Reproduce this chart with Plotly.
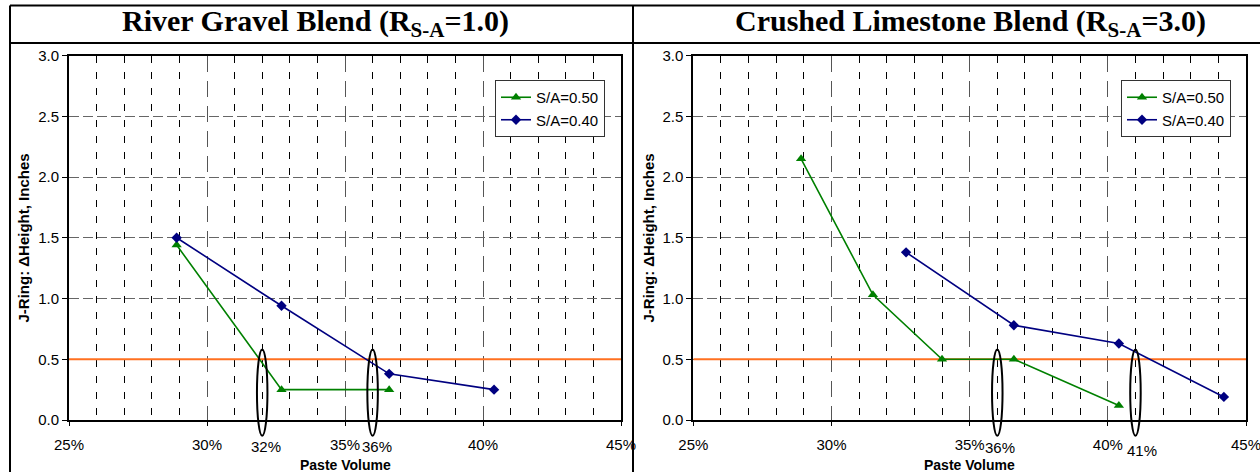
import plotly.graph_objects as go

W, H = 1260, 472

# ---------------- data ----------------
titles = ["River Gravel Blend (R<sub>S-A</sub>=1.0)",
          "Crushed Limestone Blend (R<sub>S-A</sub>=3.0)"]
series_names = ["S/A=0.50", "S/A=0.40"]

# River Gravel Blend
rg_sa050_x = [28.9, 32.7, 36.6]
rg_sa050_y = [1.44, 0.25, 0.25]
rg_sa040_x = [28.9, 32.7, 36.6, 40.4]
rg_sa040_y = [1.50, 0.94, 0.38, 0.25]

# Crushed Limestone Blend
cl_sa050_x = [28.9, 31.5, 34.0, 36.6, 40.4]
cl_sa050_y = [2.15, 1.03, 0.50, 0.50, 0.12]
cl_sa040_x = [32.7, 36.6, 40.4, 44.2]
cl_sa040_y = [1.38, 0.78, 0.63, 0.19]

# threshold line
limit_x = [25, 45]
limit_y = [0.5, 0.5]

# circled values (ellipse centres, % paste volume) and their labels
rg_marks = [32, 36]
rg_mark_labels = ["32%", "36%"]
rg_label_x = [32.15, 36.15]
rg_label_y = [-0.22, -0.22]
cl_marks = [36, 41]
cl_mark_labels = ["36%", "41%"]
cl_label_x = [36.1, 41.25]
cl_label_y = [-0.23, -0.25]
ell_y0, ell_y1, ell_halfw = -0.13, 0.58, 0.19

x_range = [25, 45]
y_range = [0, 3]

# ---------------- styling ----------------
GREEN = "#008000"
BLUE = "#000080"
ORANGE = "#FF7020"
SANS = "Liberation Sans, Arial, sans-serif"
SERIF = "Liberation Serif, Times New Roman, serif"

fig = go.Figure()

panels = [
    dict(xa="x", ya="y", leg="legend",
         s050=(rg_sa050_x, rg_sa050_y), s040=(rg_sa040_x, rg_sa040_y),
         marks=rg_marks, labels=rg_mark_labels, lx=rg_label_x, ly=rg_label_y),
    dict(xa="x2", ya="y2", leg="legend2",
         s050=(cl_sa050_x, cl_sa050_y), s040=(cl_sa040_x, cl_sa040_y),
         marks=cl_marks, labels=cl_mark_labels, lx=cl_label_x, ly=cl_label_y),
]

for p in panels:
    fig.add_trace(go.Scatter(x=limit_x, y=limit_y, mode="lines",
                             line=dict(color=ORANGE, width=2),
                             xaxis=p["xa"], yaxis=p["ya"], showlegend=False,
                             hoverinfo="skip"))
    fig.add_trace(go.Scatter(x=p["s050"][0], y=p["s050"][1], mode="lines+markers",
                             name=series_names[0],
                             line=dict(color=GREEN, width=1.6),
                             marker=dict(symbol="triangle-up", size=9, color=GREEN),
                             xaxis=p["xa"], yaxis=p["ya"], legend=p["leg"]))
    fig.add_trace(go.Scatter(x=p["s040"][0], y=p["s040"][1], mode="lines+markers",
                             name=series_names[1],
                             line=dict(color=BLUE, width=1.6),
                             marker=dict(symbol="diamond", size=8, color=BLUE),
                             xaxis=p["xa"], yaxis=p["ya"], legend=p["leg"]))


def xf(v):
    return (v - x_range[0]) / (x_range[1] - x_range[0])


def yf(v):
    return (v - y_range[0]) / (y_range[1] - y_range[0])


shapes = []
annotations = []
for p in panels:
    for m, lab, lx, ly in zip(p["marks"], p["labels"], p["lx"], p["ly"]):
        shapes.append(dict(type="circle", xref=p["xa"] + " domain", yref=p["ya"] + " domain",
                           x0=xf(m - ell_halfw), x1=xf(m + ell_halfw),
                           y0=yf(ell_y0), y1=yf(ell_y1),
                           line=dict(color="black", width=2), layer="above"))
        annotations.append(dict(text=lab, xref=p["xa"], yref=p["ya"] + " domain",
                                x=lx, y=yf(ly), showarrow=False,
                                font=dict(family=SANS, size=15, color="black"),
                                xanchor="center", yanchor="middle"))

# frame lines (table look)
def px(v):
    return v / W


def py(v):
    return 1 - v / H


frame = dict(color="black", width=2)
shapes += [
    dict(type="line", xref="paper", yref="paper", x0=px(10), x1=1, y0=py(5.5), y1=py(5.5), line=frame, layer="above"),
    dict(type="line", xref="paper", yref="paper", x0=px(10), x1=1, y0=py(43), y1=py(43), line=frame, layer="above"),
    dict(type="line", xref="paper", yref="paper", x0=px(10), x1=px(10), y0=0, y1=py(5.5), line=frame, layer="above"),
    dict(type="line", xref="paper", yref="paper", x0=px(633), x1=px(633), y0=0, y1=py(5.5), line=frame, layer="above"),
]

# titles
for t, cx in zip(titles, [315, 970]):
    annotations.append(dict(text="<b>" + t + "</b>", xref="paper", yref="paper",
                            x=px(cx), y=py(23), showarrow=False,
                            font=dict(family=SERIF, size=30, color="black"),
                            xanchor="center", yanchor="middle"))

# axis titles
for xa, ytx in [("x", 22.5), ("x2", 647.5)]:
    annotations.append(dict(text="<b>Paste Volume</b>", xref=xa + " domain", yref="paper",
                            x=0.5, y=py(465), showarrow=False,
                            font=dict(family=SANS, size=14, color="black"),
                            xanchor="center", yanchor="middle"))
    annotations.append(dict(text="<b>J-Ring: \u0394Height, Inches</b>", xref="paper", yref="paper",
                            x=px(ytx), y=py(238), showarrow=False, textangle=-90,
                            font=dict(family=SANS, size=15, color="black"),
                            xanchor="center", yanchor="middle"))

xaxis_common = dict(range=x_range, dtick=5, tick0=25, ticksuffix="%",
                    showgrid=True, gridcolor="#555555", griddash="16px,9px", gridwidth=1,
                    minor=dict(dtick=1, showgrid=True, gridcolor="black", griddash="7px,9px",
                               gridwidth=1, ticks=""),
                    ticks="outside", ticklen=4, tickcolor="black", tickwidth=1,
                    ticklabelstandoff=6, automargin=False, ticklabeloverflow="allow",
                    showline=True, linecolor="black", linewidth=2, mirror=True,
                    zeroline=False, tickfont=dict(family=SANS, size=15, color="black"),
                    fixedrange=True)
yaxis_common = dict(range=y_range, dtick=0.5, tickformat=".1f",
                    showgrid=True, gridcolor="#666666", griddash="10px,4px", gridwidth=1,
                    ticks="outside", ticklen=5, tickcolor="black", tickwidth=1,
                    automargin=False, ticklabeloverflow="allow",
                    showline=True, linecolor="black", linewidth=2, mirror=True,
                    zeroline=False, tickfont=dict(family=SANS, size=15, color="black"),
                    fixedrange=True)

ydom = [py(420), py(55.5)]
legend_common = dict(xanchor="left", yanchor="top", bgcolor="white",
                     bordercolor="#333333", borderwidth=1,
                     font=dict(family=SANS, size=15, color="black"),
                     itemwidth=30, tracegroupgap=0)

fig.update_layout(
    width=W, height=H, margin=dict(l=0, r=0, t=0, b=0, autoexpand=False),
    paper_bgcolor="white", plot_bgcolor="white",
    xaxis=dict(domain=[px(69), px(621)], anchor="y", **xaxis_common),
    yaxis=dict(domain=ydom, anchor="x", **yaxis_common),
    xaxis2=dict(domain=[px(693.3), px(1246)], anchor="y2", **xaxis_common),
    yaxis2=dict(domain=ydom, anchor="x2", **yaxis_common),
    legend=dict(x=px(495), y=py(80), **legend_common),
    legend2=dict(x=px(1121), y=py(80), **legend_common),
    shapes=shapes, annotations=annotations,
    showlegend=True,
)

fig.write_html("out.html")
